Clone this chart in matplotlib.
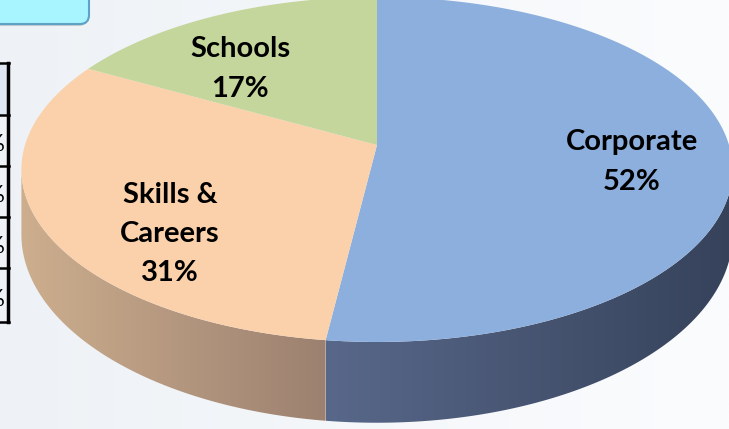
import numpy as np
import matplotlib
matplotlib.use("Agg")
import matplotlib.pyplot as plt
from matplotlib.patches import Polygon, FancyBboxPatch, Rectangle
from matplotlib.colors import LinearSegmentedColormap

# slice data (clockwise from 12 o'clock)
labels = ["Corporate", "Skills &\nCareers", "Schools"]
shares = [52, 31, 17]
top_colors = ["#8cafdd", "#fbd1ab", "#c4d69c"]
side_colors = [("#58688a", "#36425a"), ("#cdae8e", "#9c8170"), ("#a4b37c", "#8a9866")]
label_xy = [(632, 162), (170, 234), (240, 69)]

# partly visible table on the left edge
table_rows = [63, 115, 166, 217, 268, 322]

W, H = 729, 429
# perspective disk: apex, horizontal scale, vertical scale, foreshortening, wall depth
CX, CY, S, HV, K, DEPTH = 377, 145, 352, 169, 0.142, 63
K_WALL = 0.22


def project(theta_deg, wall=False):
    t = np.radians(np.atleast_1d(theta_deg))
    u, v = np.cos(t), np.sin(t)
    w = 1 + K * v
    dy = DEPTH / (1 + K_WALL * v) if wall else 0.0
    return np.column_stack([CX + S * u / w, CY - HV * v / w + dy])


def arc(t0, t1, wall=False, n=160):
    return project(np.linspace(t0, t1, n), wall)


fig = plt.figure(figsize=(W / 100, H / 100), dpi=100)
ax = fig.add_axes([0, 0, 1, 1])
ax.set_axis_off()

grad = np.linspace(0, 1, 256)[None, :]
bg_cmap = LinearSegmentedColormap.from_list("bg", ["#eef2f6", "#fbfcfe"])
ax.imshow(grad, extent=[0, W, H, 0], cmap=bg_cmap, aspect="auto", zorder=0)

# wedge angle ranges
bounds = 90 - 360 * np.concatenate([[0], np.cumsum(shares)]) / sum(shares)
spans = [(bounds[i + 1], bounds[i]) for i in range(len(shares))]

# visible wall runs between the left and right silhouette points
sil = np.degrees(np.arcsin(K))
wall_lo, wall_hi = -180 + sil, -sil

for (t0, t1), (c_left, c_right) in zip(spans, side_colors):
    lo, hi = max(t0, wall_lo), min(t1, wall_hi)
    if lo >= hi:
        continue
    verts = np.vstack([arc(lo, hi), arc(hi, lo, wall=True)])
    poly = Polygon(verts, closed=True, facecolor="none", edgecolor="none",
                   transform=ax.transData, zorder=2)
    ax.add_patch(poly)
    x0, x1 = verts[:, 0].min(), verts[:, 0].max()
    y0, y1 = verts[:, 1].min(), verts[:, 1].max()
    cm = LinearSegmentedColormap.from_list("side", [c_left, c_right])
    im = ax.imshow(grad, extent=[x0, x1, y1, y0], cmap=cm, aspect="auto", zorder=2)
    im.set_clip_path(poly)

# top faces
for (t0, t1), col in zip(spans, top_colors):
    verts = np.vstack([[CX, CY], arc(t0, t1)])
    ax.add_patch(Polygon(verts, closed=True, facecolor=col, edgecolor="none", zorder=3))

for text, share, (lx, ly) in zip(labels, shares, label_xy):
    ax.text(lx, ly, f"{text}\n{share}%", ha="center", va="center",
            fontsize=21, fontweight="bold", family=["Lato", "DejaVu Sans"],
            linespacing=1.62, color="black", zorder=5)

# table fragment
ax.add_patch(Rectangle((-20, table_rows[0]), 29, table_rows[1] - table_rows[0],
                       facecolor="#dde6f1", edgecolor="none", zorder=3))
for y in table_rows:
    ax.plot([-5, 9], [y, y], color="black", lw=1.8, zorder=4)
ax.plot([8, 8], [table_rows[0], table_rows[-1]], color="black", lw=2.5, zorder=4)
for ya, yb in zip(table_rows[1:-1], table_rows[2:]):
    ax.text(5, (ya + yb) / 2 + 4, "%", ha="right", va="center", fontsize=17,
            family=["Lato", "DejaVu Sans"], color="black", zorder=4)

# callout box in the corner
ax.add_patch(FancyBboxPatch((-30, -30), 118, 56, boxstyle="round,pad=0,rounding_size=9",
                            facecolor="#9aa4ad", edgecolor="none", alpha=0.5, zorder=3))
ax.add_patch(FancyBboxPatch((-30, -30), 119, 54, boxstyle="round,pad=0,rounding_size=9",
                            facecolor="#a8f4ff", edgecolor="#5fa3c4", lw=1.5, zorder=4))

ax.set_xlim(0, W)
ax.set_ylim(H, 0)
fig.savefig("out.png", dpi=100)
